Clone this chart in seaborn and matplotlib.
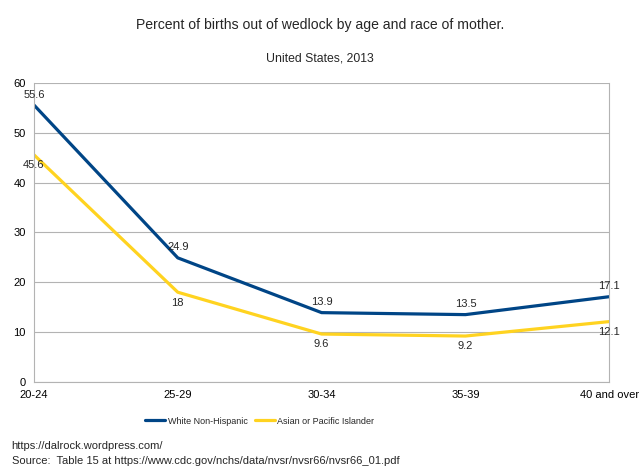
import numpy as np
import pandas as pd
import matplotlib
matplotlib.use("Agg")
import matplotlib.pyplot as plt
import seaborn as sns

# Data
age_groups = ["20-24", "25-29", "30-34", "35-39", "40 and over"]
white_non_hispanic = [55.6, 24.9, 13.9, 13.5, 17.1]
asian_pacific = [45.6, 18, 9.6, 9.2, 12.1]
series_names = ["White Non-Hispanic", "Asian or Pacific Islander"]

sns.set_theme(style="white")
plt.rcParams["font.family"] = ["Liberation Sans", "DejaVu Sans"]

colors = {"White Non-Hispanic": "#004586", "Asian or Pacific Islander": "#ffd320"}

df = pd.DataFrame({
    "age": age_groups * 2,
    "pct": white_non_hispanic + asian_pacific,
    "series": [series_names[0]] * len(age_groups) + [series_names[1]] * len(age_groups),
})
df["x"] = [age_groups.index(a) for a in df["age"]]

fig = plt.figure(figsize=(6.4, 4.72), dpi=100)
ax = fig.add_axes([0.053, 0.191, 0.899, 0.633])

sns.lineplot(data=df, x="x", y="pct", hue="series", palette=colors,
             linewidth=2.3, ax=ax, legend=False, sort=False)

ax.set_xlim(0, len(age_groups) - 1)
ax.set_ylim(0, 60)
ax.set_yticks(range(0, 61, 10))
ax.set_xticks(range(len(age_groups)))
ax.set_xticklabels(age_groups)
ax.set_xlabel("")
ax.set_ylabel("")
ax.tick_params(axis="both", labelsize=8, labelcolor="#000000", length=4,
               width=0.8, direction="out", pad=2, color="#b3b3b3")
ax.yaxis.grid(True, color="#b3b3b3", linewidth=0.8)
ax.set_axisbelow(True)
for side in ["left", "right", "bottom"]:
    ax.spines[side].set_color("#b3b3b3")
    ax.spines[side].set_linewidth(0.8)
ax.spines["top"].set_visible(False)

# value labels: white above the line, asian below
for i, v in enumerate(white_non_hispanic):
    ax.annotate(f"{v:g}", (i, v), textcoords="offset points", xytext=(0, 7.5),
                ha="center", va="center", fontsize=8, annotation_clip=False)
for i, v in enumerate(asian_pacific):
    ax.annotate(f"{v:g}", (i, v), textcoords="offset points", xytext=(0, -7.5),
                ha="center", va="center", fontsize=8, annotation_clip=False)

fig.text(0.5, 0.947, "Percent of births out of wedlock by age and race of mother.",
         ha="center", va="center", fontsize=10.1)
fig.text(0.5, 0.877, "United States, 2013", ha="center", va="center", fontsize=8.8)

handles = [plt.Line2D([0], [0], color=colors[s], linewidth=2.3) for s in series_names]
fig.legend(handles, series_names, loc="center", bbox_to_anchor=(0.406, 0.108),
           ncol=2, frameon=False, fontsize=6.5, handlelength=2.2,
           handletextpad=0.3, columnspacing=0.8)

fig.text(0.018, 0.055, "https://dalrock.wordpress.com/", ha="left", va="center", fontsize=8)
fig.text(0.018, 0.023, "Source:  Table 15 at https://www.cdc.gov/nchs/data/nvsr/nvsr66/nvsr66_01.pdf",
         ha="left", va="center", fontsize=8)

fig.savefig("out.png", dpi=100, facecolor="white")
